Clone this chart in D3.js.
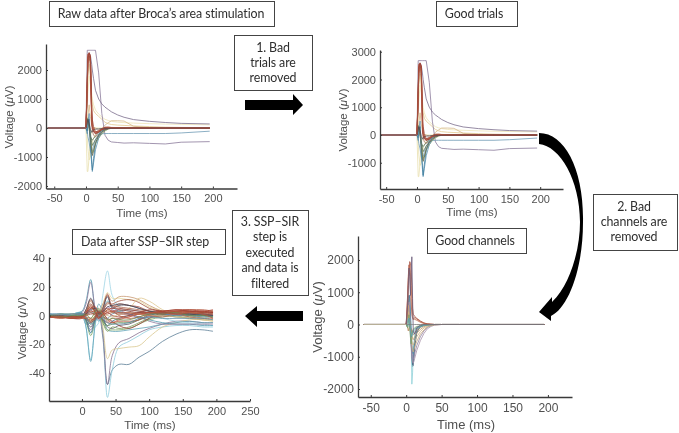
<!DOCTYPE html>
<html><head><meta charset="utf-8">
<script src="https://cdn.jsdelivr.net/npm/d3@7/dist/d3.min.js"></script>
<style>
html,body{margin:0;padding:0;background:#fff}
svg{display:block;filter:blur(.42px)}
.ax text{font-family:"Liberation Sans",Arial,sans-serif;fill:#505050}
.ax path,.ax line{stroke:#3a3a3a}
.lab{font-family:"Liberation Sans",Arial,sans-serif;fill:#505050;text-anchor:middle}
.box{font-family:Lato,"Open Sans",sans-serif;fill:#2e2e2e;font-size:12.4px;letter-spacing:-.1px;text-anchor:middle}
</style></head><body><div id="c"></div>
<script>
// ---------- data ----------
const panelTitles = ["Raw data after Broca\u2019s area stimulation","Good trials","Good channels","Data after SSP\u2013SIR step"];
const timeTitle = "Time (ms)";
const voltPre = "Voltage (", voltMu = "\u03bc", voltPost = "V)";
const rawTicksX = [-50,0,50,100,150,200];
const raw1TicksY = [-2000,-1000,0,1000,2000];
const raw2TicksY = [-1000,0,1000,2000,3000];
const goodTicksY = [-2000,-1000,0,1000,2000];
const filtTicksX = [0,50,100,150,200,250];
const filtTicksY = [-40,-20,0,20,40];

const tRaw = [-60,0,2,3,5,7,9,10,12,15,20,25,30,35,40,50,60,75,100,125,150,195];
const rawColors = ["#e9dfae","#e9dfae","#e3c98f","#efe5b8","#d6b98a","#8a7a9a","#7a6c8c","#6f9ab5","#7d9a5c","#5e7a5a","#4a6a50","#b07a5a","#5f93b0","#3f7fa0","#6a6a4a","#b5573f","#a8432f","#b05a48","#9c3f36","#b8604a","#4a4a55","#a04a3a","#8f8490"];
const rawTraces = [
 [0,0,-1500,-1500,-1000,-300,-100,-50,-20,0,0,0,0,0,0,0,0,0,0,0,0,0],
 [0,0,-300,-700,-1100,-1000,-700,-500,-350,-220,-120,-60,-30,-20,-10,0,0,0,0,0,0,0],
 [0,0,900,1800,2200,1700,1000,800,600,500,400,300,200,150,120,100,90,70,50,30,20,10],
 [0,0,500,1200,1800,1500,1200,1000,800,620,480,380,300,260,230,200,185,170,150,135,125,110],
 [0,0,100,400,800,400,100,50,20,0,-50,-20,100,180,250,250,240,60,20,10,0,0],
 [0,0,2680,2680,2680,2680,2680,2680,2680,2680,1900,500,-250,-420,-480,-500,-520,-510,-530,-550,-490,-470],
 [0,0,1200,2400,2600,2500,2200,2000,1700,1300,1000,830,720,640,560,450,370,290,230,190,160,140],
 [0,0,-100,-300,-500,-800,-900,-800,-600,-400,-250,-200,-190,-190,-190,-190,-190,-190,-190,-190,-170,-110],
 [0,0,300,350,100,-300,-700,-850,-750,-550,-350,-200,-100,-40,-10,0,0,0,0,0,0,0],
 [0,0,200,300,50,-200,-500,-600,-520,-400,-250,-130,-60,-20,0,0,0,0,0,0,0,0],
 [0,0,150,250,-50,-300,-400,-420,-360,-280,-160,-90,-40,-10,0,0,0,0,0,0,0,0],
 [0,0,1400,2400,2500,2000,400,-100,-250,-300,-220,-130,-60,-20,-10,0,0,0,0,0,0,0],
 [0,0,-200,200,500,-500,-1100,-1500,-1200,-750,-350,-150,-60,-20,-10,0,0,0,0,0,0,0],
 [0,0,-100,100,300,-600,-1250,-1450,-1050,-550,-220,-90,-30,-10,0,0,0,0,0,0,0,0],
 [0,0,200,300,100,-400,-800,-950,-800,-500,-280,-150,-60,-20,0,0,0,0,0,0,0,0],
 [0,0,1700,2500,2600,2500,400,50,-100,-160,-130,-50,-10,-10,0,0,10,0,0,0,0,0],
 [0,0,1500,2550,2550,2450,500,80,-80,-190,-140,-30,10,0,0,-10,0,0,-10,0,0,0],
 [0,0,1400,2450,2500,2400,300,60,-120,-170,-110,-60,-20,10,0,0,0,0,0,10,0,0],
 [0,0,1600,2400,2580,2450,200,-20,-140,-200,-150,-60,-30,-20,-10,-10,-10,-10,-10,-10,-10,-10],
 [0,0,1200,2200,2400,2300,400,120,-60,-140,-90,-20,30,40,20,15,15,10,10,5,5,5],
 [0,0,200,300,150,-50,-150,-120,-60,-40,-30,-20,-10,-10,-10,0,0,0,0,0,0,0],
 [0,0,1400,2300,2480,2350,900,300,50,-130,-100,-30,20,15,10,10,10,5,5,0,0,0],
 [0,0]
];

const tGood = [-60,0,2,3,4,5,6,7,8,9,10,12,15,20,25,30,35,40,50,75,195];
const goodColors = ["#3a4f66","#8fd0d8","#4d6a88","#4f8aa6","#a890a8","#8f84a6","#c9a878","#d0b37f","#c99a6a","#b8895e","#79a06a","#5f9a92","#6aa7b8","#b05a48","#a8503f","#c06a4f","#6a5a78","#7a7a7a","#c8bfa0"];
const goodTraces = [
 [0,0,300,600,900,800,200,-500,-1000,-1300,-1280,-700,-250,-60,-10,-10,0,0,0,0,0],
 [0,0,-100,-50,100,300,100,-400,-1850,-1500,-800,-300,-120,-40,-10,0,0,0,0,0,0],
 [0,0,300,200,100,50,-50,-300,-1000,-1250,-1100,-500,-150,-50,-20,-10,0,0,0,0,0],
 [0,0,200,500,900,900,400,-100,-600,-900,-900,-500,-200,-70,-30,-10,0,0,0,0,0],
 [0,0,100,300,700,200,-300,-700,-1000,-1150,-1200,-1050,-800,-500,-280,-130,-60,-20,0,0,0],
 [0,0,200,500,600,300,-200,-600,-850,-1000,-1080,-900,-650,-380,-200,-90,-30,-10,0,0,0],
 [0,0,300,600,400,0,-200,-400,-650,-800,-850,-700,-520,-300,-170,-70,-30,-10,0,0,0],
 [0,0,100,400,200,-100,-200,-300,-500,-600,-640,-520,-380,-220,-110,-50,-10,0,0,0,0],
 [0,0,200,300,200,100,-100,-200,-340,-430,-470,-380,-270,-150,-70,-20,-10,0,0,0,0],
 [0,0,-100,-200,-100,0,-100,-150,-250,-300,-320,-260,-180,-90,-40,-10,0,0,0,0,0],
 [0,0,-100,100,300,-100,-400,-600,-400,-200,-150,-100,-60,-40,-20,0,0,0,0,0,0],
 [0,0,-50,100,200,100,-200,-400,-300,-220,-180,-140,-90,-60,-30,-20,-10,0,0,0,0],
 [0,0,100,200,150,0,-100,-300,-350,-300,-260,-190,-120,-70,-30,-10,0,0,0,0,0],
 [0,0,900,1500,1850,1700,1100,700,300,200,150,220,170,90,40,20,10,0,0,0,0],
 [0,0,800,1400,1700,1950,1900,1700,1200,500,320,250,190,110,50,20,10,0,0,0,0],
 [0,0,500,1100,1600,1800,1600,1200,800,300,180,160,130,70,30,10,0,0,0,0,0],
 [0,0,600,1200,1750,1500,900,1600,2100,800,-200,-300,-100,-20,0,0,0,0,0,0,0],
 [0,0,0,0,0,0,0,0,0,0,0,0,0,0,0,0,0,0,0,0,0],
 [0,0]
];

const tFilt = [-48,-30,-15,0,6,13,20,25,31,38,45,55,70,85,100,120,140,160,180,195];
const filtColors = ["#5d7f97","#8fcbdc","#85708f","#d9c88f","#9ed4e4","#4f99ad","#5fa3b8","#8f7a9c","#e6d9a0","#7fa867","#c99b74","#a8503f","#4a4a58","#5a5a68","#7d9a5c","#a0503c","#b5573f","#9c3f36","#3e6f8f","#e0c890","#b06a50","#6f8f52","#8c6ea0","#b5573f","#5a8ea8","#a8432f","#c4b080","#a0503c","#4a4a58","#b5573f","#9c3f36","#c06a4f","#5a8ea8","#a8432f","#6f8f52","#b5573f"];
const filtTraces = [
 [0,0,1,0,-6,-5,-3,0,-15,-48,-38,-34,-34,-29,-25,-18,-13,-10,-10,-11],
 [0,1,1,1,-8,-31,-6,4,-10,-57,-38,-22,-18,-14,-10,-8,-7,-7,-8,-8],
 [0,0,0,1,-4,-10,-2,3,-12,-48,-28,-19,-16,-12,-9,-6,-4,-4,-5,-5],
 [0,1,0,1,-2,-4,0,2,-8,-30,-24,-23,-22,-21,-15,-8,-5,-3,-3,-4],
 [0,1,1,2,-4,-12,-8,-5,14,31,14,6,3,1,0,-2,-4,-5,-6,-7],
 [1,0,1,3,10,25,2,-4,2,10,6,3,1,-1,-3,-5,-6,-6,-7,-7],
 [0,1,1,2,-8,-32,-4,8,2,-10,-11,-11,-10,-9,-8,-6,-5,-4,-5,-5],
 [0,0,0,2,8,23,4,-3,3,14,6,4,1,-1,-4,-6,-6,-6,-6,-6],
 [0,0,1,1,3,6,1,-1,7,16,12,12,11,10,6,3,1,-1,-3,-4],
 [0,-1,0,1,-4,-14,-3,4,-4,-10,-10,-10,-9,-6,-3,-1,0,1,1,0],
 [0,0,-1,0,2,10,4,2,8,14,10,13,13,11,7,3,1,0,-2,-3],
 [-1,-1,-1,-1,4,11,5,1,5,15,6,8,7,6,3,2,1,2,1,1],
 [0,0,0,0,4,12,3,-2,5,13,5,7,7,5,3,1,1,0,1,0],
 [0,0,-1,0,-3,-8,-2,2,-3,-8,-9,-7,-6,-3,0,2,2,1,1,0],
 [0,1,0,1,-2,-6,-1,3,-5,-11,-8,-9,-8,-5,-2,0,1,1,0,-1],
 [-1,0,-1,-1,3,8,2,-1,3,8,8,10,11,9,5,3,2,2,1,1],
 [-1,-1,-2,-1,2,5,3,0,-3,-5,-5,-3,-1,1,1,2,3,2,3,2],
 [0,-1,-1,-1,-2,-5,-1,2,1,-2,-4,-7,-9,-6,-2,2,3,3,2,2],
 [0,0,1,1,-3,-12,-2,3,-2,-7,-4,-2,0,2,1,1,0,1,0,0],
 [0,1,1,1,1,3,1,0,2,4,2,3,5,12,10,4,0,-2,-3,-3],
 [-1,-1,-2,-1,2,7,3,2,4,9,7,6,5,4,3,3,3,3,2,3],
 [0,0,0,1,-1,-4,0,1,-4,-7,-6,-5,-5,-3,-1,0,-1,-1,-1,-1],
 [0,0,0,1,2,4,0,-1,2,6,4,2,1,-2,-1,0,1,0,0,0],
 [-1,-1,-1,-2,-2,-3,-2,1,2,3,3,0,-2,-1,1,2,2,3,3,3],
 [1,1,0,1,1,2,1,0,-1,-2,1,3,4,3,2,1,0,0,-1,-1],
 [-1,-1,-2,-1,1,3,2,-1,0,2,0,-1,0,1,2,1,3,3,2,2],
 [0,0,-1,0,-1,-2,2,4,1,0,-1,1,2,1,0,0,-1,-2,-3,-3],
 [-1,-1,-1,-1,0,1,1,0,1,1,2,1,1,2,2,1,2,1,2,1],
 [0,0,-1,0,1,4,5,1,2,6,7,8,7,5,3,2,1,1,0,0],
 [-1,-2,-1,-1,-2,-4,-1,3,2,-3,-5,-4,-4,-3,1,3,3,4,4,3],
 [-1,-1,-2,-2,1,5,6,2,3,5,3,4,3,2,4,3,4,3,3,2],
 [-1,-2,-1,-2,-1,-2,-3,0,-1,-4,-2,-2,-1,1,0,-1,1,-1,-2,-2],
 [1,1,1,1,-1,-6,-4,0,-2,-5,-6,-6,-5,-2,-1,-2,-2,-2,-2,-3],
 [-1,-1,-1,-1,2,6,2,-2,1,4,5,5,4,3,2,3,4,4,3,4],
 [0,-1,0,0,1,-2,3,5,0,-3,-2,-3,-3,-1,1,1,2,0,0,-1],
 [-1,-1,-2,-1,0,2,0,-2,1,2,3,2,2,1,2,2,1,2,1,-2]
];

const box1Lines = ["1. Bad","trials are","removed"];
const box2Lines = ["2. Bad","channels are","removed"];
const box3Lines = ["3. SSP\u2013SIR","step is","executed","and data is","filtered"];

// ---------- layout ----------
const W = 679, H = 433;
const svg = d3.select("#c").append("svg").attr("width",W).attr("height",H);

const panels = [
 {t:tRaw,s:rawTraces,c:rawColors,xd:[-63,238],xr:[46,237],yd:[-2086,2897],yr:[188.5,44],xt:rawTicksX,yt:raw1TicksY,fs:11,
  tx:142,ty:217,vx:13,vy:117,fsLab:11.5,cur:d3.curveLinear},
 {t:tRaw,s:rawTraces,c:rawColors,xd:[-60,237],xr:[380,563],yd:[-1946,3063],yr:[189,50],xt:rawTicksX,yt:raw2TicksY,fs:11,
  tx:472,ty:216,vx:347,vy:120,fsLab:11.5,cur:d3.curveLinear},
 {t:tGood,s:goodTraces,c:goodColors,xd:[-68,234],xr:[358,572],yd:[-2248,2744],yr:[397,236],xt:rawTicksX,yt:goodTicksY,fs:12,
  tx:466,ty:429,vx:322,vy:317,fsLab:13,cur:d3.curveLinear},
 {t:tFilt,s:filtTraces,c:filtColors,xd:[-49,250],xr:[49,250],yd:[-59.5,40.7],yr:[401,257],xt:filtTicksX,yt:filtTicksY,fs:11,
  tx:150,ty:429,vx:26,vy:328,fsLab:11.5,cur:d3.curveCatmullRom}
];

panels.forEach(p=>{
  const x = d3.scaleLinear().domain(p.xd).range(p.xr);
  const y = d3.scaleLinear().domain(p.yd).range(p.yr);
  const line = d3.line().x((d,i)=>x(p.t[i])).y(d=>y(d)).curve(p.cur);
  const g = svg.append("g");
  g.selectAll("path").data(p.s).join("path").attr("d",line).attr("fill","none")
    .attr("stroke",(d,i)=>p.c[i%p.c.length]).attr("stroke-width",.8);
  const ax = g.append("g").attr("class","ax").attr("transform",`translate(0,${p.yr[0]})`)
    .call(d3.axisBottom(x).tickValues(p.xt).tickFormat(d=>String(d)).tickSizeInner(-2).tickSizeOuter(0).tickPadding(6));
  const ay = g.append("g").attr("class","ax").attr("transform",`translate(${p.xr[0]},0)`)
    .call(d3.axisLeft(y).tickValues(p.yt).tickFormat(d=>String(d)).tickSizeInner(-2).tickSizeOuter(0).tickPadding(4));
  [ax,ay].forEach(a=>{a.selectAll("text").attr("font-size",p.fs);a.select(".domain").attr("stroke-width",1.3)});
  svg.append("text").attr("class","lab").attr("x",p.tx).attr("y",p.ty).attr("font-size",p.fsLab).text(timeTitle);
  const v = svg.append("text").attr("class","lab").attr("font-size",p.fsLab)
    .attr("transform",`translate(${p.vx},${p.vy}) rotate(-90)`);
  v.append("tspan").text(voltPre);
  v.append("tspan").attr("font-style","italic").text(voltMu);
  v.append("tspan").text(voltPost);
});

// ---------- boxes ----------
function box(x0,y0,x1,y1,lines,tx,anchor,lh,ty){
  svg.append("rect").attr("x",x0+.5).attr("y",y0+.5).attr("width",x1-x0).attr("height",y1-y0)
    .attr("fill","#fff").attr("stroke","#444").attr("stroke-width",1);
  lines.forEach((s,i)=>svg.append("text").attr("class","box").attr("x",tx)
    .attr("y",ty+i*lh).style("text-anchor",anchor||"middle").text(s));
}
box(49,1,274,26,[panelTitles[0]],161,"middle",0,18);
box(436,1,517,26,[panelTitles[1]],474,"middle",0,18);
box(427,228,526,253,[panelTitles[2]],475,"middle",0,245);
box(72,229,225,254,[panelTitles[3]],81,"start",0,246);
box(234,35,312,90,box1Lines,273,"middle",15,52);
box(593,194,677,250,box2Lines,634,"middle",15,211);
box(232,210,308,295,box3Lines,270,"middle",15.4,226);

// ---------- arrows ----------
svg.append("path").attr("fill","#000").attr("d","M245,100H293V94L303,105L293,115V110H245Z");
svg.append("path").attr("fill","#000").attr("d","M303,311H257V306L245,316L257,327V321H303Z");
svg.append("path").attr("fill","#000").attr("d","M539,133C565,133 584,170 583,222C583,270 568,308 551,316L551,321L539,312L552,297L552,302C570,285 580,250 580,222C580,180 560,146 539,144Z");
</script></body></html>
